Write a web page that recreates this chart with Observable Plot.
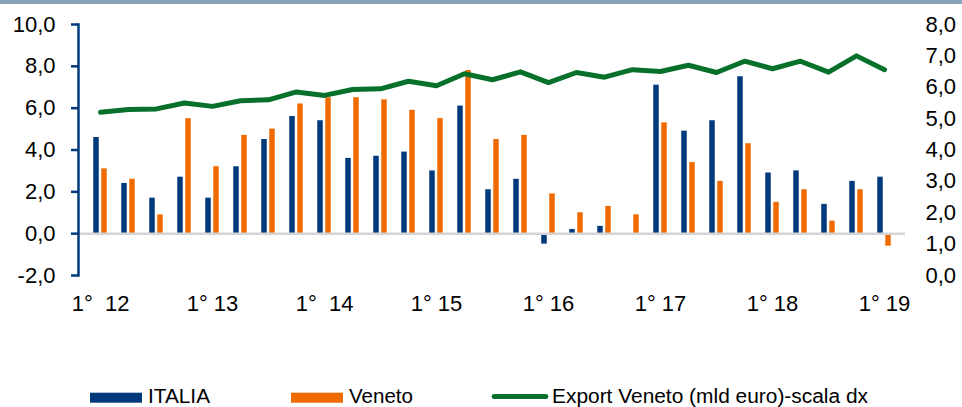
<!DOCTYPE html>
<html>
<head>
<meta charset="utf-8">
<script src="https://cdn.jsdelivr.net/npm/d3@7"></script>
<script src="https://cdn.jsdelivr.net/npm/@observablehq/plot@0.6"></script>
<style>
  html, body { margin: 0; padding: 0; background: #fff; }
  #wrap { position: relative; width: 962px; height: 407px; overflow: hidden; font-family: "Liberation Sans", Arial, sans-serif; }
  #band { position: absolute; left: 0; top: 0; width: 962px; height: 4px; background: #86a2b7; }
  #wrap svg { display: block; }
</style>
</head>
<body>
<div id="wrap"><div id="chart"></div><div id="legend"></div><div id="band"></div></div>
<script>
const quarters = [
  "2012Q1","2012Q2","2012Q3","2012Q4",
  "2013Q1","2013Q2","2013Q3","2013Q4",
  "2014Q1","2014Q2","2014Q3","2014Q4",
  "2015Q1","2015Q2","2015Q3","2015Q4",
  "2016Q1","2016Q2","2016Q3","2016Q4",
  "2017Q1","2017Q2","2017Q3","2017Q4",
  "2018Q1","2018Q2","2018Q3","2018Q4",
  "2019Q1"
];
const italia = [4.6,2.4,1.7,2.7, 1.7,3.2,4.5,5.6, 5.4,3.6,3.7,3.9, 3.0,6.1,2.1,2.6, -0.5,0.2,0.35,0.0, 7.1,4.9,5.4,7.5, 2.9,3.0,1.4,2.5, 2.7];
const veneto = [3.1,2.6,0.9,5.5, 3.2,4.7,5.0,6.2, 6.5,6.5,6.4,5.9, 5.5,7.8,4.5,4.7, 1.9,1.0,1.3,0.9, 5.3,3.4,2.5,4.3, 1.5,2.1,0.6,2.1, -0.6];
const exportVeneto = [5.20,5.29,5.31,5.50, 5.39,5.57,5.60,5.85, 5.74,5.93,5.95,6.19, 6.05,6.43,6.24,6.49, 6.15,6.47,6.32,6.56, 6.50,6.70,6.47,6.83, 6.59,6.83,6.48,7.00, 6.56];

const xTickQuarters = ["2012Q1","2013Q1","2014Q1","2015Q1","2016Q1","2017Q1","2018Q1","2019Q1"];
const xTickLabels = ["1°\u00a0\u00a012","1° 13","1°\u00a0\u00a014","1° 15","1° 16","1° 17","1° 18","1° 19"];
const leftTicks = [-2,0,2,4,6,8,10];
const rightTicks = [0,1,2,3,4,5,6,7,8];
const legendLabels = ["ITALIA","Veneto","Export Veneto (mld euro)-scala dx"];

const BLUE = "#003a7d", ORANGE = "#ef6b00", GREEN = "#07702b";
const fmt = v => (Math.round(v * 10) / 10).toFixed(1).replace(".", ",");
// right scale [0,8] maps onto left scale [-2,10]
const toLeft = r => r * 1.5 - 2;
const toRight = l => (l + 2) / 1.5;

const rows = quarters.map((q, i) => ({q, italia: italia[i], veneto: veneto[i], exp: exportVeneto[i]}));

const W = 962, H = 340, ML = 78, MR = 57, MT = 24, MB = 65;
const bw = (W - ML - MR) / quarters.length;
const half = bw / 2;

const chart = Plot.plot({
  width: W, height: H,
  marginLeft: ML, marginRight: MR, marginTop: MT, marginBottom: MB,
  style: {fontFamily: '"Liberation Sans", Arial, sans-serif', fontSize: "22px", background: "white", color: "black", overflow: "visible"},
  x: {type: "band", domain: quarters, padding: 0, label: null},
  y: {domain: [-2, 10], label: null},
  marks: [
    Plot.barY(rows, {x: "q", y: "italia", fill: BLUE, insetLeft: half - 7, insetRight: half + 1}),
    Plot.barY(rows, {x: "q", y: "veneto", fill: ORANGE, insetLeft: half + 1, insetRight: half - 7}),
    Plot.ruleY([0], {stroke: "#d4d4d4", strokeWidth: 2.5}),
    Plot.line(rows, {x: "q", y: d => toLeft(d.exp), stroke: GREEN, strokeWidth: 5, strokeLinejoin: "round", strokeLinecap: "round"}),
    Plot.frame({anchor: "left", stroke: BLUE, strokeWidth: 2.5}),
    Plot.axisY({anchor: "left", label: null, ticks: leftTicks, tickFormat: fmt, tickSize: 7, tickPadding: 16, stroke: BLUE, strokeWidth: 2.5, fontSize: 22, fill: "black"}),
    Plot.axisY({anchor: "right", label: null, ticks: rightTicks.map(toLeft), tickFormat: v => fmt(toRight(v)), tickSize: 0, tickPadding: 20, fontSize: 22, fill: "black"}),
    Plot.axisX({anchor: "bottom", label: null, ticks: xTickQuarters, tickFormat: q => xTickLabels[xTickQuarters.indexOf(q)], tickSize: 0, tickPadding: 20, fontSize: 22, fill: "black"})
  ]
});
document.getElementById("chart").appendChild(chart);

// legend
const lg = d3.select("#legend").append("svg").attr("width", W).attr("height", 407 - H)
  .style("font-family", '"Liberation Sans", Arial, sans-serif').style("font-size", "20px");
lg.append("rect").attr("x", 90).attr("y", 52.7).attr("width", 52).attr("height", 10).attr("fill", BLUE);
lg.append("text").attr("x", 148).attr("y", 62.5).attr("textLength", 62).attr("lengthAdjust", "spacingAndGlyphs").text(legendLabels[0]);
lg.append("rect").attr("x", 291).attr("y", 52.7).attr("width", 52).attr("height", 10).attr("fill", ORANGE);
lg.append("text").attr("x", 349).attr("y", 62.5).attr("textLength", 64).attr("lengthAdjust", "spacingAndGlyphs").text(legendLabels[1]);
lg.append("line").attr("x1", 494.2).attr("x2", 545.8).attr("y1", 56.5).attr("y2", 56.5).attr("stroke", GREEN).attr("stroke-width", 5).attr("stroke-linecap", "round");
lg.append("text").attr("x", 552).attr("y", 62.5).attr("textLength", 316).attr("lengthAdjust", "spacingAndGlyphs").text(legendLabels[2]);
</script>
</body>
</html>
